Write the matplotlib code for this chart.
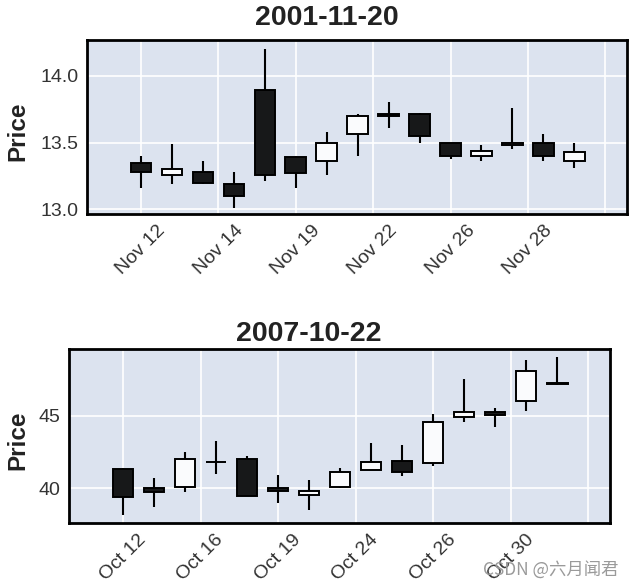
import matplotlib
matplotlib.use("Agg")
import matplotlib.pyplot as plt
import numpy as np

# ---- data: 2001-11-20 panel ----
opens1  = [13.35, 13.26, 13.28, 13.19, 13.89, 13.39, 13.36, 13.56, 13.71, 13.71, 13.50, 13.40, 13.48, 13.50, 13.36]
highs1  = [13.40, 13.49, 13.36, 13.28, 14.20, 13.40, 13.58, 13.71, 13.80, 13.72, 13.50, 13.48, 13.76, 13.56, 13.50]
lows1   = [13.16, 13.19, 13.19, 13.01, 13.21, 13.16, 13.26, 13.40, 13.61, 13.50, 13.38, 13.36, 13.45, 13.36, 13.31]
closes1 = [13.28, 13.30, 13.20, 13.10, 13.26, 13.27, 13.50, 13.70, 13.70, 13.55, 13.40, 13.44, 13.50, 13.40, 13.43]
ticks1  = ["Nov 12", "Nov 14", "Nov 19", "Nov 22", "Nov 26", "Nov 28", ""]

# ---- data: 2007-10-22 panel ----
opens2  = [41.30, 40.05, 40.07, 41.85, 42.00, 40.02, 39.56, 40.07, 41.27, 41.91, 41.73, 44.91, 45.30, 46.04, 47.25]
highs2  = [41.38, 40.69, 42.49, 43.27, 42.24, 40.92, 40.58, 41.38, 43.11, 43.02, 45.14, 47.58, 45.55, 48.87, 49.06]
lows2   = [38.16, 38.73, 39.72, 40.97, 39.49, 38.96, 38.48, 40.00, 41.25, 40.85, 41.54, 44.59, 44.26, 45.37, 47.15]
closes2 = [39.38, 39.72, 42.00, 41.80, 39.50, 39.84, 39.82, 41.10, 41.82, 41.10, 44.59, 45.30, 45.07, 48.13, 47.18]
ticks2  = ["Oct 12", "Oct 16", "Oct 19", "Oct 24", "Oct 26", "Oct 30", ""]

FACE = "#DCE3EF"
plt.rcParams["font.family"] = ["Liberation Sans", "DejaVu Sans"]

fig = plt.figure(figsize=(6.35, 5.88), dpi=100)


def candles(ax, o, h, l, c):
    o = np.asarray(o); h = np.asarray(h); l = np.asarray(l); c = np.asarray(c)
    x = np.arange(len(o))
    up = c >= o
    ax.vlines(x, l, h, color="k", lw=1.5, zorder=3)
    bottoms = np.minimum(o, c)
    heights = np.abs(c - o)
    colors = np.where(up, "#FAFBFD", "#171819")
    ax.bar(x, heights, bottom=bottoms, width=0.66, color=colors,
           edgecolor="k", linewidth=1.4, zorder=4)
    return x


def style(ax, ylim, yticks, yfmt, xtl, left_px, label_y):
    ax.set_facecolor(FACE)
    for s in ax.spines.values():
        s.set_color("black")
        s.set_linewidth(2)
    ax.set_xlim(-1.74, 15.7)
    ax.set_ylim(*ylim)
    ax.set_yticks(yticks)
    ax.set_yticklabels([yfmt.format(v) for v in yticks])
    ax.set_xticks(np.arange(len(xtl)) * 2.5)
    ax.set_xticklabels(xtl, rotation=45)
    ax.grid(True, color="white", lw=1.2, zorder=0)
    ax.set_axisbelow(True)
    ax.tick_params(length=0, labelsize=14, colors="#333333", pad=6)
    ax.set_ylabel("Price", fontsize=17.5, fontweight="bold", color="#222222")
    ax.yaxis.set_label_coords((29 - left_px) / 540.0, label_y)


ax1 = fig.add_axes([87 / 635, 1 - 214 / 588, 540 / 635, 174 / 588])
candles(ax1, opens1, highs1, lows1, closes1)
style(ax1, (12.965, 14.267), [13.0, 13.5, 14.0], "{:.1f}", ticks1, 87, 0.474)

ax2 = fig.add_axes([69 / 635, 1 - 523.3 / 588, 541 / 635, 174.3 / 588])
candles(ax2, opens2, highs2, lows2, closes2)
style(ax2, (37.58, 49.63), [40, 45], "{:.0f}", ticks2, 69, 0.478)

fig.text(327 / 635, 1 - 25 / 588, "2001-11-20", ha="center", va="baseline",
         fontsize=20.5, fontweight="bold", color="#222222")
fig.text(309 / 635, 1 - 341 / 588, "2007-10-22", ha="center", va="baseline",
         fontsize=20.5, fontweight="bold", color="#222222")

fig.text(551 / 635, 1 - 570 / 588, "CSDN @六月闻君", ha="center", va="center",
         fontsize=12.5, color="#9a9a9a", family=["Noto Sans CJK SC", "DejaVu Sans"])

fig.savefig("out.png", dpi=100, facecolor="white")
